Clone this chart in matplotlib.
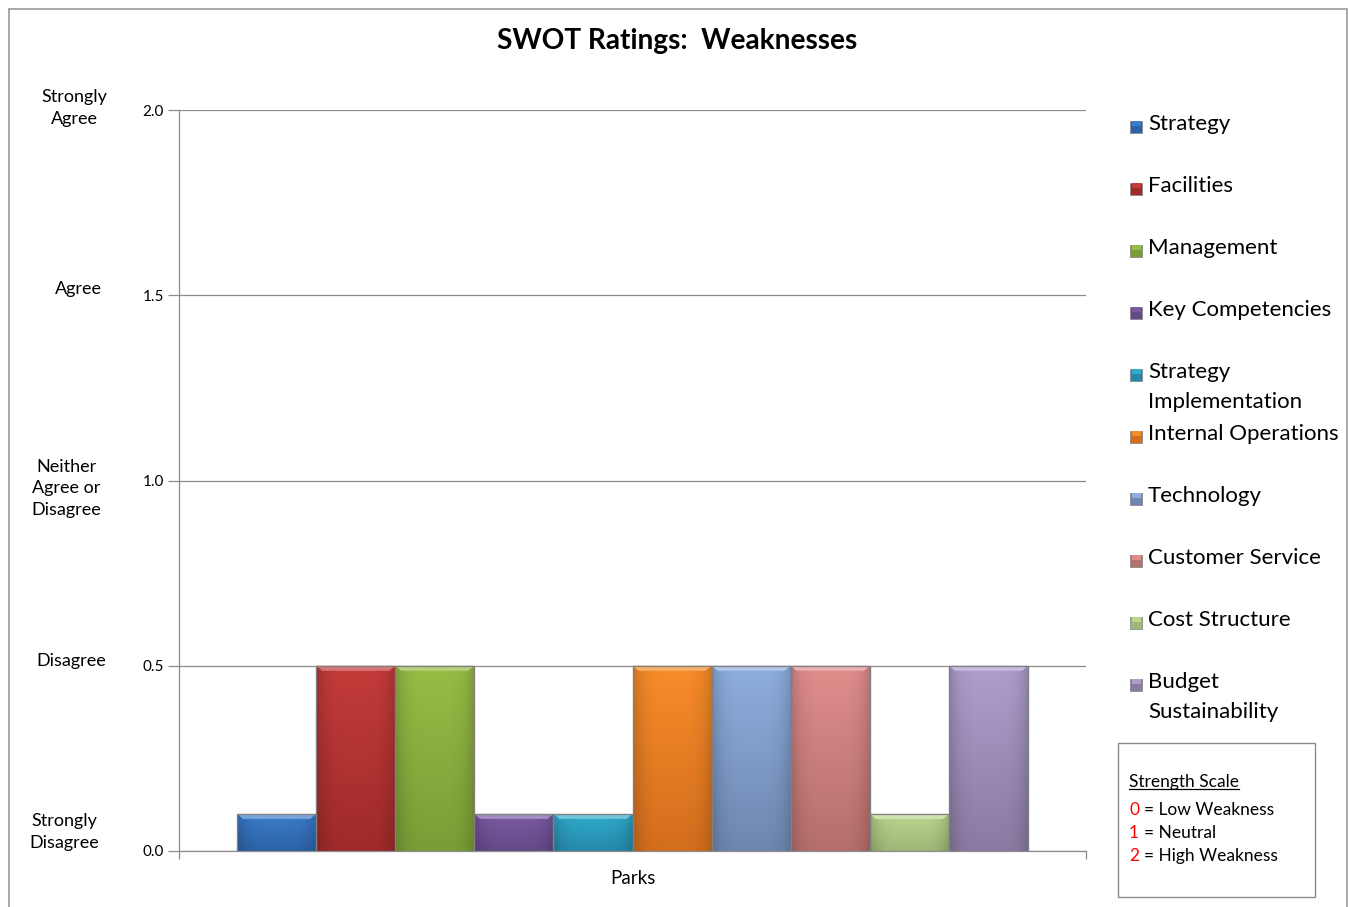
import numpy as np
import matplotlib
matplotlib.use("Agg")
import matplotlib.pyplot as plt
from matplotlib.patches import Rectangle, Polygon
from matplotlib.colors import to_rgb

plt.rcParams['font.family'] = ['Lato', 'DejaVu Sans']

# ---- data ----
title = "SWOT Ratings:  Weaknesses"
category = "Parks"
series = ["Strategy", "Facilities", "Management", "Key Competencies",
          "Strategy Implementation", "Internal Operations", "Technology",
          "Customer Service", "Cost Structure", "Budget Sustainability"]
values = [0.1, 0.5, 0.5, 0.1, 0.1, 0.5, 0.5, 0.5, 0.1, 0.5]
legend_labels = ["Strategy", "Facilities", "Management", "Key Competencies",
                 "Strategy\nImplementation", "Internal Operations", "Technology",
                 "Customer Service", "Cost Structure", "Budget\nSustainability"]
y_ticks = [0.0, 0.5, 1.0, 1.5, 2.0]
y_tick_labels = ["0.0", "0.5", "1.0", "1.5", "2.0"]
scale_labels = ["Strongly\nDisagree", "Disagree", "Neither\nAgree or\nDisagree",
                "Agree", "Strongly\nAgree"]
key_title = "Strength Scale"
key_digits = ["0", "1", "2"]
key_texts = ["Low Weakness", "Neutral", "High Weakness"]

# ---- styling ----
top_colors = ["#3b7dcc", "#c43c3a", "#97bd46", "#7c5aa3", "#30abcc",
              "#f78c2a", "#8eaedf", "#e08e8c", "#bcd68e", "#ae9ecd"]
bot_colors = ["#2d62a6", "#9e2b2a", "#7a9d36", "#654a88", "#2689aa",
              "#d36e1e", "#6f87b0", "#b56f6d", "#9fb777", "#8a7ba3"]

W, H = 1348, 907
fig = plt.figure(figsize=(W / 100, H / 100), dpi=100)


def fx(px):
    return px / W


def fy(py):
    return 1 - py / H


# outer frame of the chart area
fig.patches.append(Rectangle((fx(8.5), fy(915)), fx(1346.5) - fx(8.5), fy(8.5) - fy(915),
                             transform=fig.transFigure, fill=False,
                             edgecolor="#9a9a9a", linewidth=1.2))

ax = fig.add_axes([fx(179), fy(851), fx(1086) - fx(179), fy(110) - fy(851)])
ax.set_xlim(-0.5, 0.5)
ax.set_ylim(0, 2.0)

n = len(series)
bw = 0.0872
xs = [(i - (n - 1) / 2) * bw for i in range(n)]
bars = ax.bar(xs, values, width=bw, color=top_colors, edgecolor="#7f7f7f",
              linewidth=0.8, zorder=3)

# per-pixel sizes in data units for the bevel decoration
dx = 1.0 / (1086 - 179)
dy = 2.0 / (851 - 110)


def vgrad(c_top, c_bot):
    a, b = np.array(to_rgb(c_top)), np.array(to_rgb(c_bot))
    t = np.linspace(0, 1, 64)[:, None]
    col = a * (1 - t) + b * t
    return col[:, None, :]


for bar, ct, cb in zip(bars, top_colors, bot_colors):
    x0, y0 = bar.get_x(), bar.get_y()
    w, h = bar.get_width(), bar.get_height()
    img = vgrad(ct, cb)
    im = ax.imshow(img, extent=[x0, x0 + w, y0, y0 + h], aspect="auto",
                   origin="upper", zorder=3.5, interpolation="bilinear")
    im.set_clip_path(bar)
    # horizontal shading: darker near the sides
    shade = np.zeros((1, 64, 4))
    u = np.linspace(-1, 1, 64)
    shade[0, :, 3] = 0.18 * np.abs(u) ** 4
    sh = ax.imshow(shade, extent=[x0, x0 + w, y0, y0 + h], aspect="auto",
                   zorder=3.6, interpolation="bilinear")
    sh.set_clip_path(bar)
    # top bevel
    lt = np.array(to_rgb(ct))
    light = lt + (1 - lt) * 0.3
    bev = 5 * dy
    ins = 6 * dx
    ax.add_patch(Polygon([(x0, y0 + h), (x0 + w, y0 + h),
                          (x0 + w - ins, y0 + h - bev), (x0 + ins, y0 + h - bev)],
                         closed=True, facecolor=light, edgecolor="none", zorder=3.7))
    ax.add_patch(Rectangle((x0, y0), w, h, fill=False, edgecolor="#808080",
                           linewidth=0.9, zorder=3.9))

ax.set_yticks(y_ticks)
ax.set_yticklabels(y_tick_labels, fontsize=11)
ax.yaxis.grid(True, color="#8c8c8c", linewidth=0.9, zorder=1)
ax.set_axisbelow(True)
ax.tick_params(axis="y", length=8, color="#8c8c8c", pad=3, width=0.9)
ax.set_xticks([-0.5, 0.5])
ax.set_xticklabels(["", ""])
ax.tick_params(axis="x", length=6, color="#8c8c8c", width=0.9)
ax.set_xticks([0], minor=True)
ax.set_xticklabels([category], minor=True, fontsize=13.5)
ax.tick_params(axis="x", which="minor", length=0, pad=14)
for s in ["top", "right"]:
    ax.spines[s].set_visible(False)
for s in ["left", "bottom"]:
    ax.spines[s].set_color("#8c8c8c")
    ax.spines[s].set_linewidth(0.9)

# verbal scale to the left of the numeric ticks
scale_offsets_px = [-19, -5, 8, -6, -2]
scale_centers_px = [64, 71.5, 66.5, 78, 74]
for yv, lab, off, xc in zip(y_ticks, scale_labels, scale_offsets_px, scale_centers_px):
    yp = fy(110 + (2.0 - yv) / 2.0 * (851 - 110) + off)
    fig.text(fx(xc), yp, lab, ha="center", va="center", fontsize=13,
             linespacing=1.45)

fig.text(fx(677), fy(41), title, ha="center", va="center", fontsize=20.2,
         fontweight="bold")

# legend
for i, (lab, ct, cb) in enumerate(zip(legend_labels, top_colors, bot_colors)):
    yc = 124 + 62 * i
    fig.patches.append(Rectangle((fx(1130), fy(yc + 9)), fx(12), fy(0) - fy(12),
                                 transform=fig.transFigure, facecolor=cb,
                                 edgecolor="#8a8a8a", linewidth=0.6))
    fig.patches.append(Rectangle((fx(1131.5), fy(yc + 2)), fx(9), fy(0) - fy(5),
                                 transform=fig.transFigure, facecolor=ct,
                                 edgecolor="none"))
    for k, line in enumerate(lab.split("\n")):
        fig.text(fx(1148), fy(yc + 30 * k), line, ha="left", va="center",
                 fontsize=16)

# strength scale key
fig.patches.append(Rectangle((fx(1117.5), fy(896.5)), fx(1314.5) - fx(1117.5),
                             fy(742.5) - fy(896.5), transform=fig.transFigure,
                             facecolor="white", edgecolor="#8a8a8a", linewidth=1.0))
kt = fig.text(fx(1129), fy(782), key_title, ha="left", va="center", fontsize=12.5)
for j, (d, t) in enumerate(zip(key_digits, key_texts)):
    yc = 810 + 23 * j
    fig.text(fx(1129), fy(yc), d, ha="left", va="center", fontsize=12.5,
             color="#ff0000")
    fig.text(fx(1144), fy(yc), "= " + t, ha="left", va="center", fontsize=12.5)

fig.canvas.draw()
bb = kt.get_window_extent()
ybase = bb.y0 + 1
fig.lines.append(plt.Line2D([bb.x0 / W, bb.x1 / W], [ybase / H, ybase / H],
                            transform=fig.transFigure, color="black", linewidth=0.9))

fig.savefig("out.png", dpi=100)
